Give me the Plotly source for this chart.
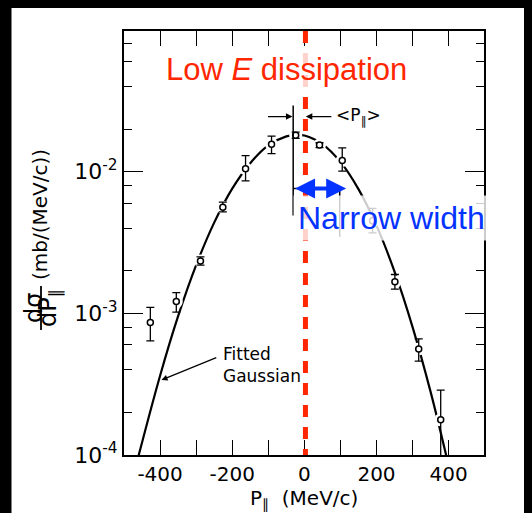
import plotly.graph_objects as go

# ---- data ----
p_par = [-427, -355, -288, -226, -163, -91, -24, 42, 105, 189, 251, 317, 378]
dsig = [8.6e-4, 1.21e-3, 2.34e-3, 5.6e-3, 1.05e-2, 1.56e-2, 1.81e-2, 1.54e-2, 1.20e-2, 4.5e-3, 1.67e-3, 5.6e-4, 1.77e-4]
err_top = [1.10e-3, 1.40e-3, 2.50e-3, 6.1e-3, 1.30e-2, 1.78e-2, 1.90e-2, 1.60e-2, 1.47e-2, 5.5e-3, 1.88e-3, 6.6e-4, 2.87e-4]
err_bot = [6.4e-4, 1.02e-3, 2.19e-3, 5.2e-3, 8.6e-3, 1.34e-2, 1.72e-2, 1.48e-2, 1.01e-2, 3.7e-3, 1.48e-3, 4.6e-4, 5e-5]

fit_x = [-460, -400, -350, -300, -250, -200, -150, -100, -50, -20, 0, 50, 100, 150, 200, 250, 300, 350, 395]
fit_y = [9.8e-5, 3.63e-4, 9.55e-4, 2.19e-3, 4.37e-3, 7.59e-3, 1.148e-2, 1.531e-2, 1.774e-2, 1.82e-2,
         1.80e-2, 1.567e-2, 1.172e-2, 7.53e-3, 4.16e-3, 1.97e-3, 8.0e-4, 2.79e-4, 9.5e-5]

x_tickvals = [-400, -300, -200, -100, 0, 100, 200, 300, 400]
x_ticktext = ["-400", "", "-200", "", "0", "", "200", "", "400"]
y_tickvals = [1e-4, 1e-3, 1e-2]
y_ticktext = ["10<sup>-4</sup>", "10<sup>-3</sup>", "10<sup>-2</sup>"]
y_minor = [2e-4, 4e-4, 6e-4, 8e-4, 2e-3, 4e-3, 6e-3, 8e-3, 2e-2, 4e-2, 6e-2, 8e-2]

RED = "rgb(255,38,0)"
BLUE = "rgb(4,51,255)"
FONT = "DejaVu Sans"

fig = go.Figure()

# fitted gaussian curve
fig.add_trace(go.Scatter(x=fit_x, y=fit_y, mode="lines", line=dict(color="black", width=2.2, shape="spline"),
                         hoverinfo="skip"))
# white halos -> gaps in the curve around points
fig.add_trace(go.Scatter(x=p_par, y=dsig, mode="markers",
                         marker=dict(size=13, color="white", line=dict(width=0)), hoverinfo="skip"))
# data points
fig.add_trace(go.Scatter(
    x=p_par, y=dsig, mode="markers",
    marker=dict(symbol="circle", size=6, color="white", line=dict(color="black", width=1.5)),
    error_y=dict(type="data", symmetric=False,
                 array=[t - v for t, v in zip(err_top, dsig)],
                 arrayminus=[v - b for v, b in zip(dsig, err_bot)],
                 color="black", thickness=1.3, width=4)))

# ---- axes ----
fig.update_xaxes(range=[-500, 498], tickmode="array", tickvals=x_tickvals, ticktext=x_ticktext,
                 ticks="inside", ticklen=15, tickwidth=1.3, tickcolor="black",
                 showline=True, linewidth=2, linecolor="black", mirror="ticks",
                 showgrid=False, zeroline=False, tickfont=dict(family=FONT, size=20, color="black"))
fig.update_yaxes(type="log", range=[-4, -1.007], tickmode="array", tickvals=y_tickvals, ticktext=y_ticktext,
                 ticks="inside", ticklen=19, tickwidth=1.3, tickcolor="black",
                 minor=dict(tickvals=y_minor, ticks="inside", ticklen=8, tickwidth=1.1, tickcolor="black"),
                 showline=True, linewidth=2, linecolor="black", mirror="ticks",
                 showgrid=False, zeroline=False, tickfont=dict(family=FONT, size=22, color="black"))

shapes = []
# black strip on the left (the page margin above/left is painted black by the page background)
shapes.append(dict(type="rect", xref="paper", yref="paper", x0=-0.40, x1=-0.3125, y0=-0.2, y1=1.2,
                   fillcolor="black", line=dict(width=0), layer="above"))
# original annotation lines (mean and width markers)
shapes.append(dict(type="line", xref="x", yref="y", x0=-31, x1=-31, y0=4.9e-3, y1=2.93e-2,
                   line=dict(color="black", width=1.5), layer="above"))
shapes.append(dict(type="line", xref="x", yref="y", x0=-31, x1=98, y0=7.6e-3, y1=7.6e-3,
                   line=dict(color="black", width=1.5), layer="above"))
shapes.append(dict(type="line", xref="x", yref="y", x0=98, x1=98, y0=3.47e-3, y1=7.6e-3,
                   line=dict(color="black", width=1.5), layer="above"))
# red dashed vertical line
shapes.append(dict(type="line", xref="x", yref="paper", x0=3, x1=3, y0=1, y1=0,
                   line=dict(color=RED, width=5, dash="12px,10px"), layer="above"))

annotations = []
# <P||> arrows
annotations.append(dict(x=-33, y=-1.611, ax=-105, ay=-1.611, xref="x", yref="y", axref="x", ayref="y",
                        text="", showarrow=True, arrowhead=2, arrowsize=1, arrowwidth=1.3, arrowcolor="black"))
annotations.append(dict(x=4, y=-1.611, ax=79, ay=-1.611, xref="x", yref="y", axref="x", ayref="y",
                        text="", showarrow=True, arrowhead=2, arrowsize=1, arrowwidth=1.3, arrowcolor="black"))
annotations.append(dict(x=151, y=-1.611, xref="x", yref="y", text="&lt;P<sub>∥</sub>&gt;", showarrow=False,
                        font=dict(family=FONT, size=17, color="black"), xanchor="center", yanchor="middle"))
# Fitted Gaussian label + arrow
annotations.append(dict(x=-396, y=-3.47, ax=-240, ay=-3.308, xref="x", yref="y", axref="x", ayref="y",
                        text="", showarrow=True, arrowhead=2, arrowsize=1, arrowwidth=1.2, arrowcolor="black"))
annotations.append(dict(x=(221 - 124) / 360, y=(455 - 365) / 424, xref="paper", yref="paper",
                        text="Fitted<br>Gaussian", align="left", showarrow=False,
                        font=dict(family=FONT, size=17, color="black"), xanchor="left", yanchor="middle"))
# Low E dissipation
annotations.append(dict(x=0.451, y=0.909, xref="paper", yref="paper",
                        text="Low <i>E</i> dissipation", showarrow=False,
                        font=dict(family="Liberation Sans", size=31, color=RED),
                        bgcolor="rgba(255,255,255,0.8)", borderpad=0, xanchor="center", yanchor="middle"))
# Narrow width
annotations.append(dict(x=0.7436, y=0.559, xref="paper", yref="paper",
                        text="Narrow width", showarrow=False,
                        font=dict(family="Liberation Sans", size=32, color=BLUE),
                        bgcolor="rgba(255,255,255,0.8)", borderpad=4, xanchor="center", yanchor="middle"))
# blue double arrow
annotations.append(dict(x=116, y=-2.119, ax=-30, ay=-2.119, xref="x", yref="y", axref="x", ayref="y",
                        text="", showarrow=True, arrowhead=2, arrowside="end+start", arrowsize=1,
                        arrowwidth=4, arrowcolor=BLUE))
# y axis title pieces
annotations.append(dict(x=(40 - 124) / 360, y=(455 - 215) / 424, xref="paper", yref="paper",
                        text="(mb/(MeV/c))", textangle=-90, showarrow=False,
                        font=dict(family=FONT, size=20, color="black"), xanchor="center", yanchor="middle"))
annotations.append(dict(x=(34 - 124) / 360, y=(455 - 308) / 424, xref="paper", yref="paper",
                        text="dσ", textangle=-90, showarrow=False,
                        font=dict(family=FONT, size=24, color="black"), xanchor="center", yanchor="middle"))
annotations.append(dict(x=(49 - 124) / 360, y=(455 - 308) / 424, xref="paper", yref="paper",
                        text="dP<sub>∥</sub>", textangle=-90, showarrow=False,
                        font=dict(family=FONT, size=24, color="black"), xanchor="center", yanchor="middle"))
shapes.append(dict(type="line", xref="paper", yref="paper", x0=(41 - 124) / 360, x1=(41 - 124) / 360,
                   y0=(455 - 330) / 424, y1=(455 - 286) / 424, line=dict(color="black", width=1.8), layer="above"))
# x axis title
annotations.append(dict(x=0.5, y=(455 - 499) / 424, xref="paper", yref="paper",
                        text="P<sub>∥</sub>  (MeV/c)", showarrow=False,
                        font=dict(family=FONT, size=20, color="black"), xanchor="center", yanchor="middle"))

# page body has an 8px margin: figure is placed at (8, 8) of the window
fig.update_layout(width=524, height=505, margin=dict(l=116, r=48, t=23, b=58),
                  paper_bgcolor="white", plot_bgcolor="white", showlegend=False,
                  shapes=shapes, annotations=annotations)

fig.write_html("out.html", post_script="document.body.style.background='black';")
